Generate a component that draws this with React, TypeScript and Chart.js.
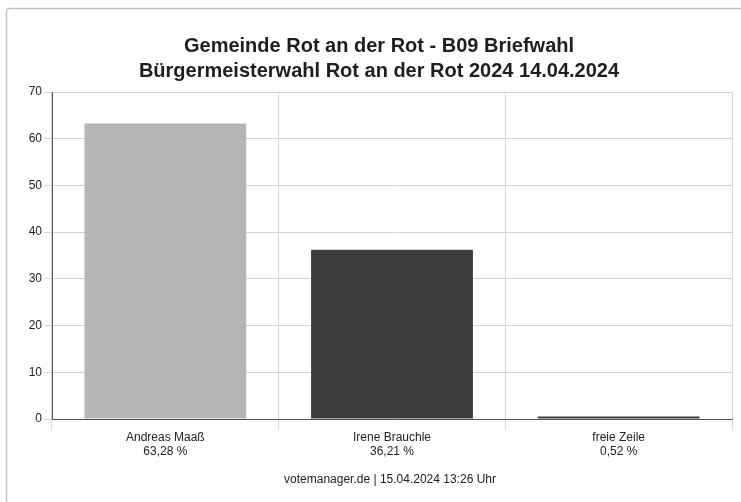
import React, { useEffect, useRef } from "react";
import { Chart, registerables } from "chart.js";

Chart.register(...registerables);

const categories: string[] = ["Andreas Maaß", "Irene Brauchle", "freie Zeile"];
const percentLabels: string[] = ["63,28 %", "36,21 %", "0,52 %"];
const values: number[] = [63.28, 36.21, 0.52];
const barColors: string[] = ["#b6b6b6", "#3c3c3c", "#3c3c3c"];
const titleLines: string[] = [
  "Gemeinde Rot an der Rot - B09 Briefwahl",
  "Bürgermeisterwahl Rot an der Rot 2024 14.04.2024",
];
const footerText = "votemanager.de | 15.04.2024 13:26 Uhr";

const FONT = "'Liberation Sans', Arial, Helvetica, sans-serif";

export default function App() {
  const ref = useRef<HTMLCanvasElement | null>(null);

  useEffect(() => {
    document.body.style.margin = "0";
    const canvas = ref.current;
    if (!canvas) return;

    const decor = {
      id: "decor",
      beforeDraw(chart: any) {
        const ctx = chart.ctx;
        ctx.save();
        ctx.fillStyle = "#ffffff";
        ctx.fillRect(0, 0, chart.width, chart.height);
        // frame
        ctx.strokeStyle = "#c4c4c4";
        ctx.lineWidth = 1.5;
        ctx.beginPath();
        ctx.moveTo(6.5, chart.height);
        ctx.lineTo(6.5, 12);
        ctx.quadraticCurveTo(6.5, 8.5, 10, 8.5);
        ctx.lineTo(chart.width, 8.5);
        ctx.stroke();
        ctx.restore();
      },
      afterDraw(chart: any) {
        const ctx = chart.ctx;
        ctx.save();
        ctx.fillStyle = "#1e1e1e";
        ctx.textAlign = "center";
        ctx.textBaseline = "middle";
        ctx.font = `bold 20px ${FONT}`;
        ctx.fillText(titleLines[0], 379, 46);
        ctx.fillText(titleLines[1], 379, 71);
        ctx.font = `12px ${FONT}`;
        ctx.fillStyle = "#222222";
        ctx.fillText(footerText, 390, 480);
        ctx.restore();
      },
    };

    const chart = new Chart(canvas, {
      type: "bar",
      data: {
        labels: categories.map((c, i) => [c, percentLabels[i]]),
        datasets: [
          {
            data: values,
            backgroundColor: barColors,
            borderWidth: 0,
            categoryPercentage: 1,
            barPercentage: 0.714,
          },
        ],
      },
      options: {
        animation: false,
        responsive: false,
        maintainAspectRatio: false,
        layout: { padding: { top: 92, right: 9, left: 0, bottom: 0 } },
        plugins: {
          legend: { display: false },
          title: { display: false },
          tooltip: { enabled: false },
        },
        scales: {
          x: {
            afterFit(scale: any) {
              scale.height = 83;
            },
            grid: {
              offset: true,
              color: "#d4d4d4",
              lineWidth: 1,
              tickLength: 10,
              drawOnChartArea: true,
            },
            border: { display: true, color: "#555555", width: 1 },
            ticks: {
              color: "#222222",
              padding: 2,
              font: { family: FONT, size: 12, lineHeight: 1.17 },
              maxRotation: 0,
            },
          },
          y: {
            min: 0,
            max: 70,
            afterFit(scale: any) {
              scale.width = 52;
            },
            grid: {
              color: "#d4d4d4",
              lineWidth: 1,
              tickLength: 8,
            },
            border: { display: true, color: "#555555", width: 1 },
            ticks: {
              stepSize: 10,
              color: "#222222",
              padding: 2,
              font: { family: FONT, size: 12 },
            },
          },
        },
      },
      plugins: [decor],
    });

    return () => chart.destroy();
  }, []);

  return <canvas ref={ref} width={741} height={502} style={{ display: "block" }} />;
}
